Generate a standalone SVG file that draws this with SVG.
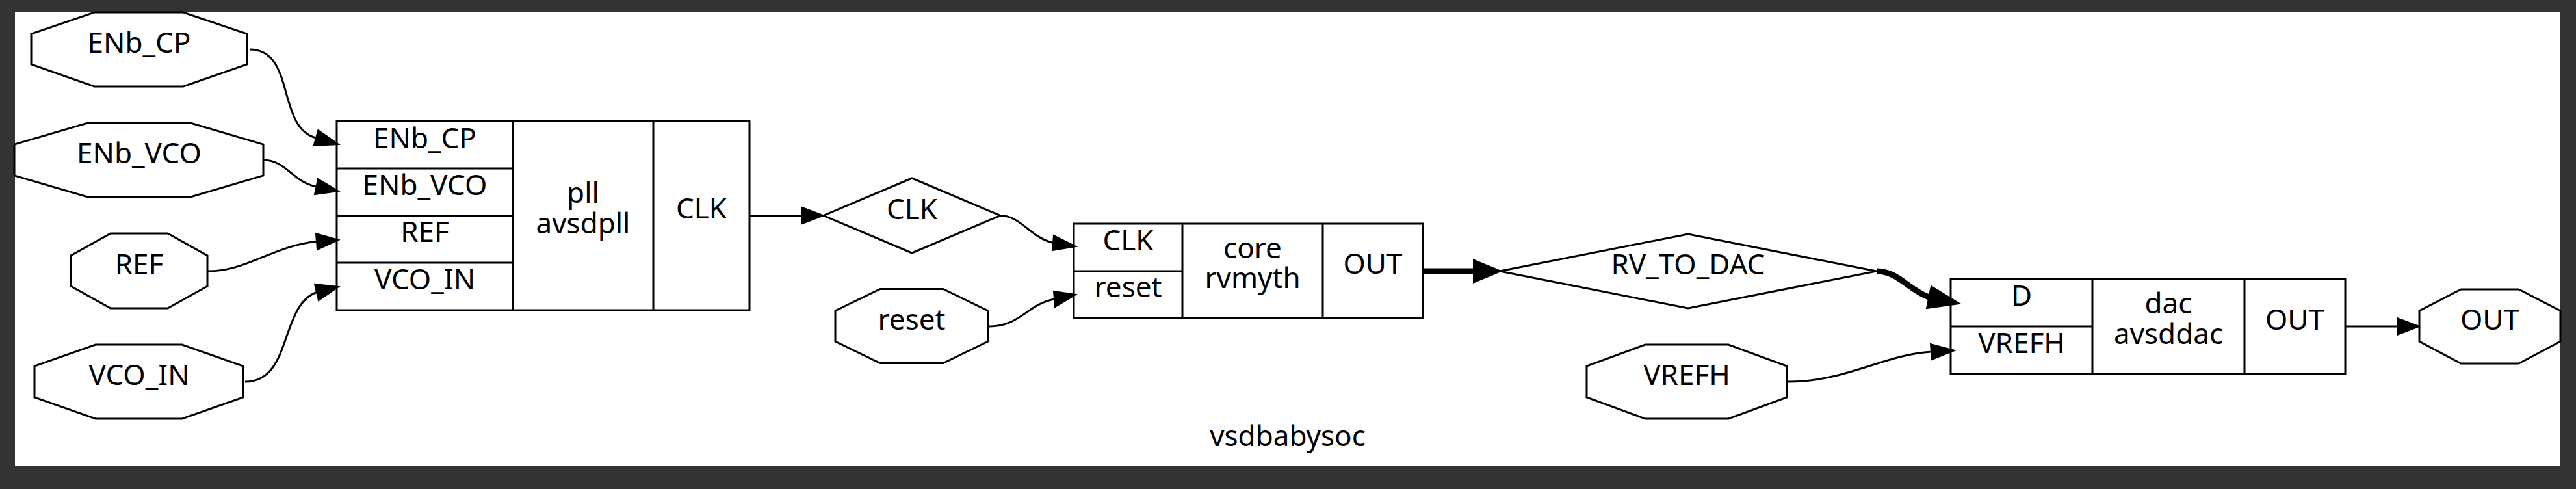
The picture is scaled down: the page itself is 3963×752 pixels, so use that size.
<svg xmlns="http://www.w3.org/2000/svg" width="3963" height="752" viewBox="0 0 3963 752">
<style>
.sh{fill:#ffffff;stroke:#000000;stroke-width:3}
.ln{fill:none;stroke:#000000;stroke-width:3}
.e{fill:none;stroke:#000000;stroke-width:3}
.et{fill:none;stroke:#000000;stroke-width:9}
.ah{fill:#000000;stroke:#000000;stroke-width:2}
text{font-family:"Noto Sans","Open Sans","DejaVu Sans",sans-serif;font-size:44px;fill:#000000;text-anchor:middle}
</style>
<rect x="0" y="0" width="3963" height="752" fill="#333333"/>
<rect x="23" y="19" width="3916" height="697" fill="#ffffff"/>
<text id="title" x="1981" y="686">vsdbabysoc</text>

<g id="in_ENb_CP">
<polygon class="sh" points="145,19 282,19 380,52 380,99 282,133 145,133 48,99 48,52"/>
<text x="214" y="81">ENb_CP</text>
</g>
<g id="in_ENb_VCO">
<polygon class="sh" points="135,189 293,189 405,222 405,270 293,303 135,303 22,270 22,222"/>
<text x="214" y="251">ENb_VCO</text>
</g>
<g id="in_REF">
<polygon class="sh" points="170,359 258,359 319,393 319,440 258,474 170,474 109,440 109,393"/>
<text x="214" y="422">REF</text>
</g>
<g id="in_VCO_IN">
<polygon class="sh" points="147,530 280,530 374,563 374,611 280,644 147,644 53,611 53,563"/>
<text x="214" y="592">VCO_IN</text>
</g>

<g id="pll">
<rect class="sh" x="518" y="186" width="635" height="291"/>
<path class="ln" d="M789,186 V477 M1005,186 V477 M518,259 H789 M518,332 H789 M518,404 H789"/>
<text x="653.5" y="228">ENb_CP</text>
<text x="653.5" y="300">ENb_VCO</text>
<text x="653.5" y="372">REF</text>
<text x="653.5" y="445">VCO_IN</text>
<text><tspan x="897" y="312">pll</tspan><tspan x="897" dy="47">avsdpll</tspan></text>
<text x="1079" y="336">CLK</text>
</g>

<g id="net_CLK">
<polygon class="sh" points="1267,331.5 1403,274 1539,331.5 1403,389"/>
<text x="1403" y="337">CLK</text>
</g>

<g id="in_reset">
<polygon class="sh" points="1354,444.5 1451,444.5 1520,478 1520,525 1451,558.5 1354,558.5 1285,525 1285,478"/>
<text x="1402.5" y="507">reset</text>
</g>

<g id="core">
<rect class="sh" x="1652" y="344" width="537" height="145"/>
<path class="ln" d="M1819,344 V489 M2035,344 V489 M1652,417 H1819"/>
<text x="1735.5" y="385">CLK</text>
<text x="1735.5" y="457">reset</text>
<text><tspan x="1927" y="397">core</tspan><tspan x="1927" dy="46">rvmyth</tspan></text>
<text x="2112" y="421">OUT</text>
</g>

<g id="net_RV_TO_DAC">
<polygon class="sh" points="2307,417 2597,360 2887,417 2597,474"/>
<text x="2597" y="422">RV_TO_DAC</text>
</g>

<g id="in_VREFH">
<polygon class="sh" points="2531,530 2659,530 2749,563 2749,611 2659,644 2531,644 2441,611 2441,563"/>
<text x="2595" y="592">VREFH</text>
</g>

<g id="dac">
<rect class="sh" x="3001" y="429" width="607" height="146"/>
<path class="ln" d="M3219,429 V575 M3453,429 V575 M3001,502 H3219"/>
<text x="3110" y="470">D</text>
<text x="3110" y="543">VREFH</text>
<text><tspan x="3336" y="482">dac</tspan><tspan x="3336" dy="47">avsddac</tspan></text>
<text x="3530.5" y="507">OUT</text>
</g>

<g id="out_OUT">
<polygon class="sh" points="3786,445 3875,445 3939,478 3939,525 3875,559 3786,559 3722,525 3722,478"/>
<text x="3830.5" y="507">OUT</text>
</g>

<g id="connectors">
<path class="e" d="M384,76 C455,76 425,196 486,212"/>
<polygon class="ah" points="521,222 489.4,200 482.6,224"/>
<path class="e" d="M405,246 C440,246 450,280 486.5,287"/>
<polygon class="ah" points="521,294 489,275 484,299"/>
<path class="e" d="M320,417 C380,417 420,378 487,371.5"/>
<polygon class="ah" points="521,369 486,359 488,384"/>
<path class="e" d="M377,587 C450,587 430,470 487,449.5"/>
<polygon class="ah" points="521,441 484,437 490,462"/>
<path class="e" d="M1153,331.5 L1234,331.5"/>
<polygon class="ah" points="1267,331.5 1234,319 1234,344"/>
<path class="e" d="M1539,331.5 C1570,331.5 1585,365 1620,373.5"/>
<polygon class="ah" points="1655,379 1621,362 1619,385"/>
<path class="e" d="M1521,502 C1570,502 1580,468 1622,460"/>
<polygon class="ah" points="1655,453 1621,448 1623,472"/>
<path class="et" d="M2189,417 L2267,417"/>
<polygon class="ah" points="2309,417 2267,399.5 2267,434.5"/>
<path class="et" d="M2887,417 C2920,417 2935,445 2967.5,457"/>
<polygon class="ah" points="3015,467 2971,440 2964,474"/>
<path class="e" d="M2751,587 C2840,587 2900,545 2971,541"/>
<polygon class="ah" points="3007,539 2970,529 2972,553"/>
<path class="e" d="M3608,502 L3689,502"/>
<polygon class="ah" points="3722,502 3689,489.5 3689,514.5"/>
</g>
</svg>
